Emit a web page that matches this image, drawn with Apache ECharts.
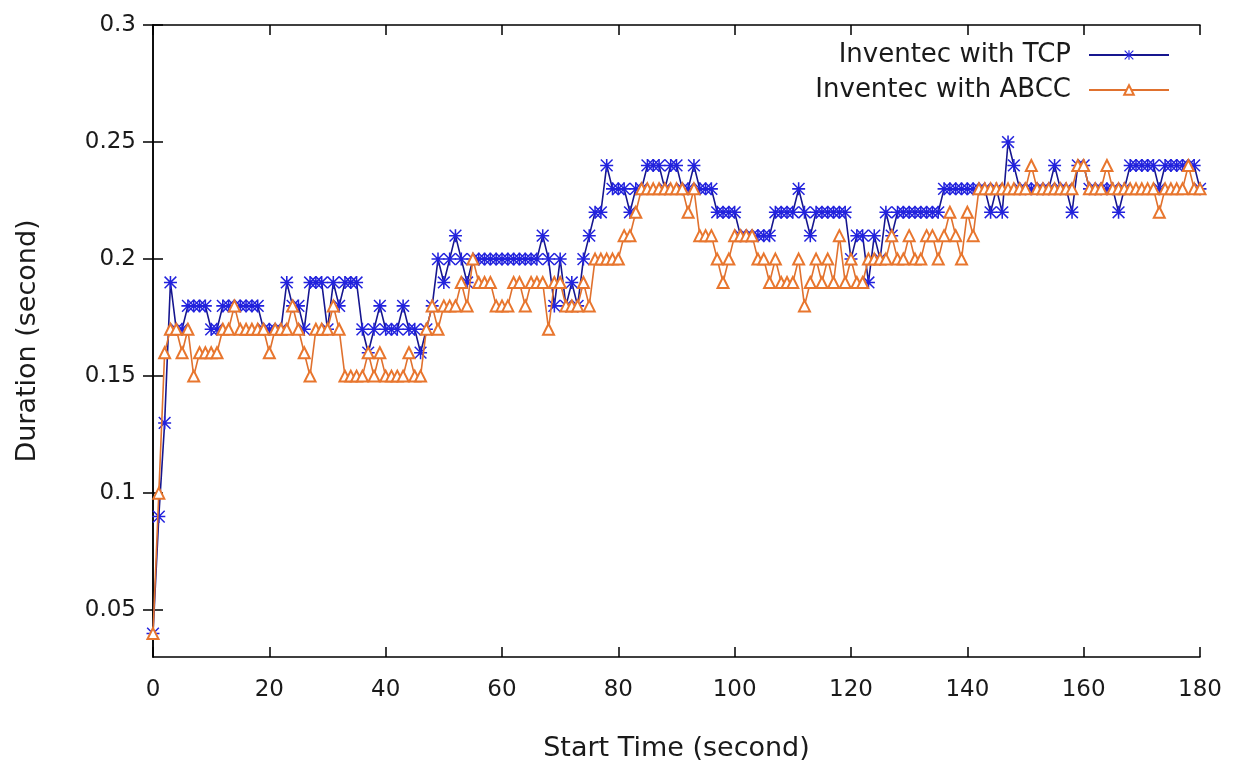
<!DOCTYPE html>
<html>
<head>
<meta charset="utf-8">
<title>Inventec TCP vs ABCC</title>
<script src="https://cdn.jsdelivr.net/npm/echarts@6/dist/echarts.min.js"></script>
<style>
	html, body { margin: 0; padding: 0; background: #fff; }
	#chart { width: 1246px; height: 771px; }
</style>
</head>
<body>
<div id="chart"></div>
<script>
	// start time in seconds, one sample per second
	const startTimes = []
	for (let t = 0; t <= 180; t++) startTimes.push(t)

	const tcpDuration = [
		0.04, 0.09, 0.13, 0.19, 0.17, 0.17, 0.18, 0.18, 0.18, 0.18,
		0.17, 0.17, 0.18, 0.18, 0.18, 0.18, 0.18, 0.18, 0.18, 0.17,
		0.17, 0.17, 0.17, 0.19, 0.18, 0.18, 0.17, 0.19, 0.19, 0.19,
		0.17, 0.19, 0.18, 0.19, 0.19, 0.19, 0.17, 0.16, 0.17, 0.18,
		0.17, 0.17, 0.17, 0.18, 0.17, 0.17, 0.16, 0.17, 0.18, 0.20,
		0.19, 0.20, 0.21, 0.20, 0.19, 0.20, 0.20, 0.20, 0.20, 0.20,
		0.20, 0.20, 0.20, 0.20, 0.20, 0.20, 0.20, 0.21, 0.20, 0.18,
		0.20, 0.18, 0.19, 0.18, 0.20, 0.21, 0.22, 0.22, 0.24, 0.23,
		0.23, 0.23, 0.22, 0.23, 0.23, 0.24, 0.24, 0.24, 0.23, 0.24,
		0.24, 0.23, 0.23, 0.24, 0.23, 0.23, 0.23, 0.22, 0.22, 0.22,
		0.22, 0.21, 0.21, 0.21, 0.21, 0.21, 0.21, 0.22, 0.22, 0.22,
		0.22, 0.23, 0.22, 0.21, 0.22, 0.22, 0.22, 0.22, 0.22, 0.22,
		0.20, 0.21, 0.21, 0.19, 0.21, 0.20, 0.22, 0.21, 0.22, 0.22,
		0.22, 0.22, 0.22, 0.22, 0.22, 0.22, 0.23, 0.23, 0.23, 0.23,
		0.23, 0.23, 0.23, 0.23, 0.22, 0.23, 0.22, 0.25, 0.24, 0.23,
		0.23, 0.23, 0.23, 0.23, 0.23, 0.24, 0.23, 0.23, 0.22, 0.24,
		0.24, 0.23, 0.23, 0.23, 0.23, 0.23, 0.22, 0.23, 0.24, 0.24,
		0.24, 0.24, 0.24, 0.23, 0.24, 0.24, 0.24, 0.24, 0.24, 0.24,
		0.23
	]

	const abccDuration = [
		0.04, 0.10, 0.16, 0.17, 0.17, 0.16, 0.17, 0.15, 0.16, 0.16,
		0.16, 0.16, 0.17, 0.17, 0.18, 0.17, 0.17, 0.17, 0.17, 0.17,
		0.16, 0.17, 0.17, 0.17, 0.18, 0.17, 0.16, 0.15, 0.17, 0.17,
		0.17, 0.18, 0.17, 0.15, 0.15, 0.15, 0.15, 0.16, 0.15, 0.16,
		0.15, 0.15, 0.15, 0.15, 0.16, 0.15, 0.15, 0.17, 0.18, 0.17,
		0.18, 0.18, 0.18, 0.19, 0.18, 0.20, 0.19, 0.19, 0.19, 0.18,
		0.18, 0.18, 0.19, 0.19, 0.18, 0.19, 0.19, 0.19, 0.17, 0.19,
		0.19, 0.18, 0.18, 0.18, 0.19, 0.18, 0.20, 0.20, 0.20, 0.20,
		0.20, 0.21, 0.21, 0.22, 0.23, 0.23, 0.23, 0.23, 0.23, 0.23,
		0.23, 0.23, 0.22, 0.23, 0.21, 0.21, 0.21, 0.20, 0.19, 0.20,
		0.21, 0.21, 0.21, 0.21, 0.20, 0.20, 0.19, 0.20, 0.19, 0.19,
		0.19, 0.20, 0.18, 0.19, 0.20, 0.19, 0.20, 0.19, 0.21, 0.19,
		0.20, 0.19, 0.19, 0.20, 0.20, 0.20, 0.20, 0.21, 0.20, 0.20,
		0.21, 0.20, 0.20, 0.21, 0.21, 0.20, 0.21, 0.22, 0.21, 0.20,
		0.22, 0.21, 0.23, 0.23, 0.23, 0.23, 0.23, 0.23, 0.23, 0.23,
		0.23, 0.24, 0.23, 0.23, 0.23, 0.23, 0.23, 0.23, 0.23, 0.24,
		0.24, 0.23, 0.23, 0.23, 0.24, 0.23, 0.23, 0.23, 0.23, 0.23,
		0.23, 0.23, 0.23, 0.22, 0.23, 0.23, 0.23, 0.23, 0.24, 0.23,
		0.23
	]

	const yTicks = [0.05, 0.1, 0.15, 0.2, 0.25, 0.3]

	const fontFamily = 'DejaVu Sans'
	// gnuplot style asterisk marker
	const asterisk = 'path://M44,0H56V100H44Z M0,44H100V56H0Z M9,1L99,91L91,99L1,9Z M91,1L99,9L9,99L1,91Z'

	const pair = (xs, ys) => xs.map((x, i) => [x, ys[i]])

	const frameLine = { show: true, lineStyle: { color: '#000', width: 1.5 } }
	const innerTick = { show: true, inside: true, length: 10, lineStyle: { color: '#000', width: 1.5 } }

	const option = {
		animation: false,
		backgroundColor: '#fff',
		textStyle: { fontFamily: fontFamily },
		grid: { left: 153, right: 46, top: 25, bottom: 114 },
		legend: {
			orient: 'vertical',
			right: 76,
			top: 42,
			padding: 0,
			align: 'right',
			itemWidth: 80,
			itemHeight: 12,
			itemGap: 9,
			textStyle: { fontSize: 26, color: '#1a1a1a', fontFamily: fontFamily, padding: [0, 13, 0, 0] },
			data: ['Inventec with TCP', 'Inventec with ABCC']
		},
		xAxis: [{
			type: 'value',
			min: 0,
			max: 180,
			interval: 20,
			name: 'Start Time (second)',
			nameLocation: 'middle',
			nameGap: 78,
			nameTextStyle: { fontSize: 27, color: '#1a1a1a' },
			axisLine: frameLine,
			axisTick: innerTick,
			axisLabel: { fontSize: 23, color: '#1a1a1a', margin: 22 },
			splitLine: { show: false }
		}, {
			type: 'value',
			position: 'top',
			min: 0,
			max: 180,
			interval: 20,
			axisLine: frameLine,
			axisTick: innerTick,
			axisLabel: { show: false },
			splitLine: { show: false }
		}],
		yAxis: [{
			type: 'value',
			min: 0.03,
			max: 0.3,
			name: 'Duration (second)',
			nameLocation: 'middle',
			nameGap: 112,
			nameTextStyle: { fontSize: 27, color: '#1a1a1a' },
			axisLine: frameLine,
			axisTick: Object.assign({ customValues: yTicks }, innerTick),
			axisLabel: { fontSize: 23, color: '#1a1a1a', margin: 17, customValues: yTicks },
			splitLine: { show: false }
		}, {
			type: 'value',
			position: 'right',
			min: 0.03,
			max: 0.3,
			axisLine: frameLine,
			axisTick: Object.assign({ customValues: yTicks }, innerTick),
			axisLabel: { show: false, customValues: yTicks },
			splitLine: { show: false }
		}],
		series: [{
			name: 'Inventec with TCP',
			type: 'line',
			data: pair(startTimes, tcpDuration),
			symbol: asterisk,
			symbolSize: 13,
			lineStyle: { color: '#16168f', width: 1.6 },
			itemStyle: { color: '#2222dd' },
			z: 2
		}, {
			name: 'Inventec with ABCC',
			type: 'line',
			data: pair(startTimes, abccDuration),
			symbol: 'emptyTriangle',
			symbolSize: 11,
			lineStyle: { color: '#e0712e', width: 1.6 },
			itemStyle: { color: '#e8762e', borderWidth: 1.5 },
			z: 3
		}]
	}

	const chart = echarts.init(document.getElementById('chart'))
	chart.setOption(option)
</script>
</body>
</html>
